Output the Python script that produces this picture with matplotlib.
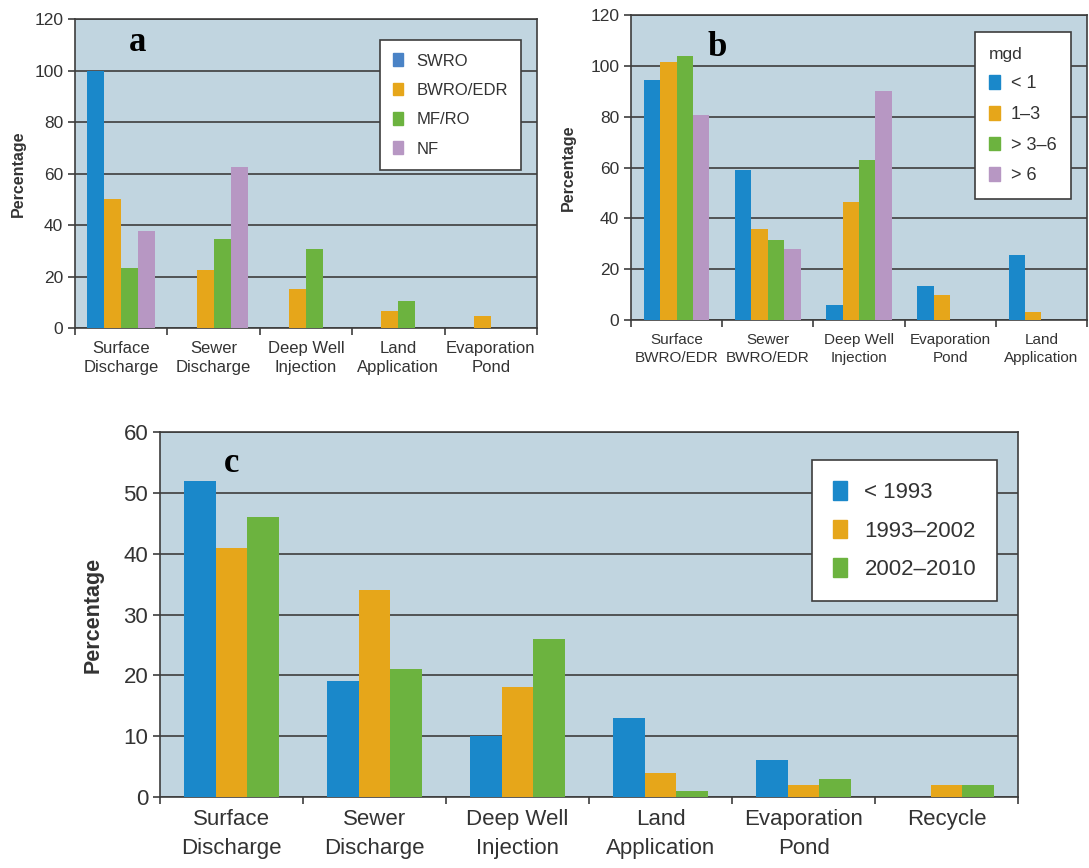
import numpy as np
from matplotlib import pyplot as plt
from matplotlib.patches import Patch

plt.rcParams['font.family'] = ['Liberation Sans', 'DejaVu Sans']

BLUE = '#1a88ca'
ORANGE = '#e6a61a'
GREEN = '#6cb33f'
PURPLE = '#b797c3'
BG = '#c1d5e0'
DARK = '#3d3d3d'
TEXT = '#333333'

# panel a: concentrate disposal by process
a_categories = ['Surface\nDischarge', 'Sewer\nDischarge', 'Deep Well\nInjection', 'Land\nApplication', 'Evaporation\nPond']
a_labels = ['SWRO', 'BWRO/EDR', 'MF/RO', 'NF']
a_swro = [100, 0, 0, 0, 0]
a_bwro = [50, 22.5, 15, 6.5, 4.5]
a_mfro = [23.5, 34.5, 30.5, 10.5, 0]
a_nf = [37.5, 62.5, 0, 0, 0]

# panel b: by plant size (mgd)
b_categories = ['Surface\nBWRO/EDR', 'Sewer\nBWRO/EDR', 'Deep Well\nInjection', 'Evaporation\nPond', 'Land\nApplication']
b_labels = ['< 1', '1–3', '> 3–6', '> 6']
b_lt1 = [94.5, 59, 6, 13.5, 25.5]
b_1to3 = [101.5, 36, 46.5, 10, 3]
b_3to6 = [104, 31.5, 63, 0, 0]
b_gt6 = [80.5, 28, 90, 0, 0]

# panel c: by year of installation
c_categories = ['Surface\nDischarge', 'Sewer\nDischarge', 'Deep Well\nInjection', 'Land\nApplication', 'Evaporation\nPond', 'Recycle']
c_labels = ['< 1993', '1993–2002', '2002–2010']
c_before93 = [52, 19, 10, 13, 6, 0]
c_93to02 = [41, 34, 18, 4, 2, 2]
c_02to10 = [46, 21, 26, 1, 3, 2]


def draw_panel(ax, categories, series, colors, width, ymax, ystep, fs, yfs, ylabel_fs, lsp, ylpad):
    n = len(categories)
    k = len(series)
    x = np.arange(n)
    for i, (vals, color) in enumerate(zip(series, colors)):
        ax.bar(x + (i - (k - 1) / 2) * width, vals, width, color=color, zorder=3)
    ax.set_facecolor(BG)
    ax.set_xlim(-0.5, n - 0.5)
    ax.set_ylim(0, ymax)
    ax.set_yticks(np.arange(0, ymax + 1, ystep))
    ax.yaxis.grid(True, color=DARK, linewidth=1.2, zorder=1)
    ax.set_axisbelow(True)
    # ticks at category boundaries, labels at centres
    ax.set_xticks(np.arange(n + 1) - 0.5)
    ax.set_xticklabels([])
    ax.set_xticks(x, minor=True)
    ax.set_xticklabels(categories, minor=True, fontsize=fs, color=TEXT, linespacing=lsp)
    ax.tick_params(axis='x', which='minor', length=0, pad=9)
    ax.tick_params(axis='x', which='major', length=5, width=1.2, color=DARK)
    ax.tick_params(axis='y', length=5, width=1.2, color=DARK, labelsize=yfs, labelcolor=TEXT)
    for spine in ax.spines.values():
        spine.set_color(DARK)
        spine.set_linewidth(1.2)
    ax.set_ylabel('Percentage', fontsize=ylabel_fs, fontweight='bold', color=TEXT, labelpad=ylpad)


def style_legend(leg):
    leg.get_frame().set_edgecolor(DARK)
    leg.get_frame().set_linewidth(1.2)
    leg.get_frame().set_alpha(1)
    for t in leg.get_texts():
        t.set_color(TEXT)


fig = plt.figure(figsize=(10.89, 8.68), dpi=100)

# a
ax_a = fig.add_axes([0.0689, 0.6221, 0.4242, 0.356])
draw_panel(ax_a, a_categories, [a_swro, a_bwro, a_mfro, a_nf],
           [BLUE, ORANGE, GREEN, PURPLE], 0.185, 120, 20, 12, 12.5, 11.5, 1.4, 6)
handles_a = [Patch(color=c) for c in ['#4a83c6', ORANGE, GREEN, PURPLE]]
leg = ax_a.legend(handles_a, a_labels, loc='upper left', bbox_to_anchor=(0.66, 0.932),
                  fontsize=12, frameon=True, fancybox=False, handlelength=0.6, handleheight=0.8,
                  handletextpad=0.8, labelspacing=0.85, borderpad=0.8, borderaxespad=0)
style_legend(leg)
ax_a.text(0.135, 0.925, 'a', transform=ax_a.transAxes, ha='center', va='center',
          fontsize=25, fontweight='bold', family='Liberation Serif', color='black', zorder=5)

# b
ax_b = fig.add_axes([0.5794, 0.6313, 0.4187, 0.3514])
draw_panel(ax_b, b_categories, [b_lt1, b_1to3, b_3to6, b_gt6],
           [BLUE, ORANGE, GREEN, PURPLE], 0.18, 120, 20, 11, 12.5, 11.5, 1.4, 10)
leg = ax_b.legend([Patch(color=c) for c in [BLUE, ORANGE, GREEN, PURPLE]], b_labels,
                  title='mgd', loc='upper left', bbox_to_anchor=(0.754, 0.944),
                  fontsize=13, title_fontsize=12.5, frameon=True, fancybox=False,
                  handlelength=0.6, handleheight=0.8, handletextpad=0.6, labelspacing=0.75,
                  borderpad=0.8, borderaxespad=0, alignment='left')
style_legend(leg)
leg.get_title().set_color(TEXT)
ax_b.text(0.19, 0.895, 'b', transform=ax_b.transAxes, ha='center', va='center',
          fontsize=25, fontweight='bold', family='Liberation Serif', color='black', zorder=5)

# c
ax_c = fig.add_axes([0.1469, 0.0818, 0.788, 0.4205])
draw_panel(ax_c, c_categories, [c_before93, c_93to02, c_02to10],
           [BLUE, ORANGE, GREEN], 0.22, 60, 10, 16, 16, 15.5, 1.5, 14)
leg = ax_c.legend([Patch(color=c) for c in [BLUE, ORANGE, GREEN]], c_labels,
                  loc='upper left', bbox_to_anchor=(0.76, 0.923),
                  fontsize=16, frameon=True, fancybox=False, handlelength=0.6, handleheight=0.9,
                  handletextpad=0.8, labelspacing=0.75, borderpad=0.95, borderaxespad=0)
style_legend(leg)
ax_c.text(0.083, 0.915, 'c', transform=ax_c.transAxes, ha='center', va='center',
          fontsize=25, fontweight='bold', family='Liberation Serif', color='black', zorder=5)

fig.savefig('out.png', dpi=100)
